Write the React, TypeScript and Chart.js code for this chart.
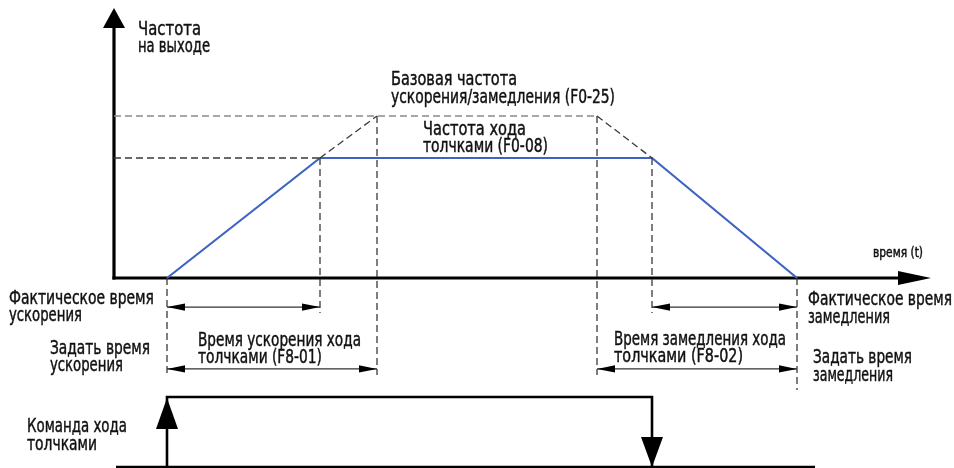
import React, { useEffect, useRef } from "react";
import { Chart, registerables } from "chart.js";

Chart.register(...registerables);

// ---------- DATA (time in s, frequency in Hz) ----------
// Output frequency profile (blue): start, jog frequency reached, decel begins, stop
const profileTime = [2.65, 10.3, 26.9, 34.15];
const profileFreq = [0, 40, 40, 0];
// Ramp extended to the base accel/decel frequency (dashed)
const baseRampTime = [10.3, 13.15, 24.15, 26.9];
const baseRampFreq = [40, 54, 54, 40];
// Jog command signal (0 = off, 1 = on)
const commandTime = [2.65, 2.65, 26.9, 26.9];
const commandLevel = [0, 1, 1, 0];
// Axis extents
const timeAxisEnd = 40.85;
const freqAxisTop = 90;
const commandBaseEnd = 35.05;

// ---------- TEXT ----------
const labelTexts = [
  ["Частота", "на выходе"],
  ["Базовая частота", "ускорения/замедления (F0-25)"],
  ["Частота хода", "толчками (F0-08)"],
  ["время (t)"],
  ["Фактическое время", "ускорения"],
  ["Задать время", "ускорения"],
  ["Время ускорения хода", "толчками (F8-01)"],
  ["Время замедления хода", "толчками (F8-02)"],
  ["Фактическое время", "замедления"],
  ["Задать время", "замедления"],
  ["Команда хода", "толчками"],
];

// ---------- LAYOUT (pixels) ----------
const labelPos = [
  { x: 138, y: 35, lh: 17, size: 20, w: [63, 72] },
  { x: 391, y: 85, lh: 18, size: 20, w: [126, 224] },
  { x: 423, y: 135, lh: 17, size: 20, w: [103, 125] },
  { x: 873, y: 257, lh: 15, size: 14, w: [50] },
  { x: 9, y: 304, lh: 17, size: 20, w: [145, 73] },
  { x: 50, y: 354, lh: 17, size: 20, w: [100, 73] },
  { x: 198, y: 346, lh: 17, size: 20, w: [163, 124] },
  { x: 614, y: 345, lh: 17, size: 20, w: [172, 129] },
  { x: 808, y: 305, lh: 18, size: 20, w: [144, 82] },
  { x: 813, y: 363, lh: 18, size: 20, w: [99, 80] },
  { x: 27, y: 432, lh: 18, size: 20, w: [100, 70] },
];
const FONT_FAMILY = '"DejaVu Sans Condensed", "Liberation Sans Narrow", "Arial Narrow", sans-serif';
const actualRowF = -9.7; // dimension row for actual times
const setRowF = -30.3; // dimension row for set times
const guideLowShort = -11.7;
const guideLowLong = -32.3;
const guideLowStop = -37.3;

const BLUE = "#3f63c2";
const DASH = "#3a3a3a";
const DASH_LIGHT = "#8a8a8a";

function seg(xs: number[], ys: number[]) {
  return xs.map((x, i) => ({ x, y: ys[i] }));
}

export default function App() {
  const ref = useRef<HTMLCanvasElement | null>(null);

  useEffect(() => {
    document.body.style.margin = "0";
    const canvas = ref.current;
    if (!canvas) return;

    const [tStart, tReach, tDecel, tStop] = profileTime;
    const tSetAccelEnd = baseRampTime[1];
    const tSetDecelStart = baseRampTime[2];
    const jogF = profileFreq[1];
    const baseF = baseRampFreq[1];

    const dashed = (data: any[], color = DASH) => ({
      data,
      yAxisID: "y",
      showLine: true,
      borderColor: color,
      borderWidth: 1.3,
      borderDash: [7, 4],
      pointRadius: 0,
      fill: false,
      tension: 0,
      clip: false as any,
    });
    const solid = (data: any[], color: string, width: number, axis = "y") => ({
      data,
      yAxisID: axis,
      showLine: true,
      borderColor: color,
      borderWidth: width,
      borderCapStyle: "butt" as any,
      borderJoinStyle: "miter" as any,
      pointRadius: 0,
      fill: false,
      tension: 0,
      clip: false as any,
    });

    const datasets: any[] = [
      // dashed guides
      dashed(seg([0, tSetDecelStart], [baseF, baseF]), DASH_LIGHT),
      dashed(seg([0, tReach], [jogF, jogF])),
      dashed(seg([baseRampTime[0], baseRampTime[1]], [baseRampFreq[0], baseRampFreq[1]])),
      dashed(seg([baseRampTime[2], baseRampTime[3]], [baseRampFreq[2], baseRampFreq[3]])),
      dashed(seg([tStart, tStart], [0, guideLowLong])),
      dashed(seg([tReach, tReach], [jogF, guideLowShort])),
      dashed(seg([tSetAccelEnd, tSetAccelEnd], [baseF, guideLowLong])),
      dashed(seg([tSetDecelStart, tSetDecelStart], [baseF, guideLowLong])),
      dashed(seg([tDecel, tDecel], [jogF, guideLowShort])),
      dashed(seg([tStop, tStop], [0, guideLowStop])),
      // dimension lines
      solid(seg([tStart, tReach], [actualRowF, actualRowF]), "#333", 1.3),
      solid(seg([tDecel, tStop], [actualRowF, actualRowF]), "#333", 1.3),
      solid(seg([tStart, tSetAccelEnd], [setRowF, setRowF]), "#333", 1.3),
      solid(seg([tSetDecelStart, tStop], [setRowF, setRowF]), "#333", 1.3),
      // output frequency profile
      solid(seg(profileTime, profileFreq), BLUE, 2.2),
      // axes
      solid(seg([0, 0], [-0.5, freqAxisTop - 2]), "#000", 3.2),
      solid(seg([-0.08, timeAxisEnd - 1], [0, 0]), "#000", 3.2),
      // command
      solid(seg([0.1, commandBaseEnd], [0, 0]), "#000", 2.4, "y2"),
      solid(seg(commandTime, commandLevel), "#000", 2.6, "y2"),
    ];

    const overlay = {
      id: "overlay",
      afterDatasetsDraw(chart: any) {
        const { ctx, scales } = chart;
        const X = (t: number) => scales.x.getPixelForValue(t);
        const Y = (f: number) => scales.y.getPixelForValue(f);
        const Y2 = (v: number) => scales.y2.getPixelForValue(v);
        const tri = (tx: number, ty: number, dx: number, dy: number, len: number, half: number) => {
          const bx = tx - dx * len;
          const by = ty - dy * len;
          const px = -dy;
          const py = dx;
          ctx.beginPath();
          ctx.moveTo(tx, ty);
          ctx.lineTo(bx + px * half, by + py * half);
          ctx.lineTo(bx - px * half, by - py * half);
          ctx.closePath();
          ctx.fill();
        };
        ctx.save();
        ctx.fillStyle = "#000";
        // axis arrowheads
        tri(X(0), Y(freqAxisTop), 0, -1, 20, 11);
        tri(X(timeAxisEnd), Y(0), 1, 0, 33, 7);
        // dimension arrowheads
        const dim = (a: number, b: number, f: number) => {
          tri(X(a), Y(f), -1, 0, 18, 3.6);
          tri(X(b), Y(f), 1, 0, 18, 3.6);
        };
        dim(tStart, tReach, actualRowF);
        dim(tDecel, tStop, actualRowF);
        dim(tStart, tSetAccelEnd, setRowF);
        dim(tSetDecelStart, tStop, setRowF);
        // command arrowheads
        tri(X(commandTime[1]), Y2(commandLevel[1]) + 1, 0, -1, 31, 11);
        tri(X(commandTime[3]), Y2(commandLevel[3]), 0, 1, 30, 11);

        // text (each line fitted to its width in the reference)
        ctx.fillStyle = "#111";
        ctx.strokeStyle = "#111";
        ctx.lineWidth = 0.45;
        ctx.textBaseline = "alphabetic";
        ctx.textAlign = "left";
        labelTexts.forEach((lines, i) => {
          const p = labelPos[i];
          ctx.font = `${p.size}px ${FONT_FAMILY}`;
          lines.forEach((s, j) => {
            const m = ctx.measureText(s).width;
            const sx = p.w[j] ? p.w[j] / m : 1;
            ctx.save();
            ctx.translate(p.x, p.y + j * p.lh);
            ctx.scale(sx, 1);
            ctx.fillText(s, 0, 0);
            ctx.strokeText(s, 0, 0);
            ctx.restore();
          });
        });
        ctx.restore();
      },
    };

    const chart = new Chart(canvas, {
      type: "scatter",
      data: { datasets },
      options: {
        animation: false,
        responsive: false,
        maintainAspectRatio: false,
        devicePixelRatio: 1,
        layout: { padding: 0 },
        events: [],
        plugins: { legend: { display: false }, tooltip: { enabled: false } },
        scales: {
          x: { type: "linear", display: false, min: -5.7, max: 42.0 },
          y: { type: "linear", display: false, min: -63.333, max: 92.667 },
          y2: { type: "linear", display: false, min: -0.0143, max: 6.6714 },
        },
      },
      plugins: [overlay],
    } as any);

    return () => chart.destroy();
  }, []);

  return (
    <div style={{ width: 954, height: 468, background: "#fff" }}>
      <canvas ref={ref} width={954} height={468} style={{ display: "block" }} />
    </div>
  );
}
